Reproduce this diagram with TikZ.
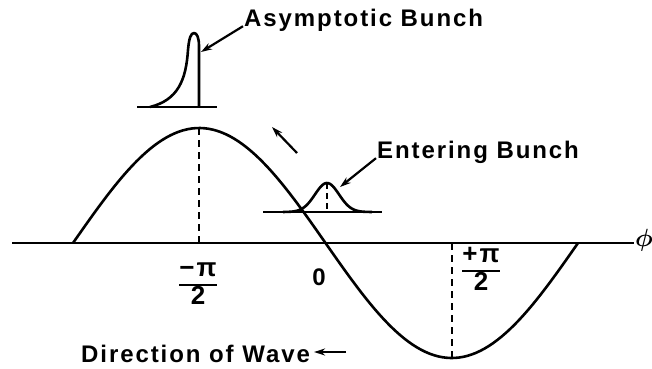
\documentclass[tikz,border=0pt]{standalone}
\usepackage{amsmath}
\usepackage{fontspec}
\setmainfont{Liberation Sans}[LetterSpace=8]
\usepackage{tikz}
\usetikzlibrary{arrows.meta}
\newcommand{\phasefrac}[2]{{\setlength{\arrayrulewidth}{2pt}\renewcommand{\arraystretch}{0.95}%
  \begin{tabular}{@{}c@{}}#1\\\hline#2\end{tabular}}}

\begin{document}
\begin{tikzpicture}[x=1pt, y=-1pt,
    curve/.style={line width=2.6pt, line join=round},
    guide/.style={line width=2pt, dash pattern=on 7pt off 5pt},
    pointer/.style={-{Stealth[length=11pt,width=7pt]}, line width=2.2pt},
    lab/.style={font=\fontsize{24}{27}\selectfont\bfseries, inner sep=1pt},
    flab/.style={font=\fontsize{26}{27}\selectfont\bfseries, inner sep=0pt}]

  \useasboundingbox (0,0) rectangle (652,368);

  % ---- phase axis ----
  \node[lab, font=\fontsize{28}{30}\selectfont] (phi) at (644,240) {$\boldsymbol{\phi}$};
  \coordinate (axl) at (12,243);
  \draw[curve] (axl) -- (phi.west |- axl);

  % ---- wave (one period, 73 to 578) ----
  \draw[curve] plot[domain=73:578, samples=120] (\x, {243 - 115*sin((\x-73)/505*360)});
  \coordinate (crest) at (199.25,128);
  \coordinate (trough) at (451.75,358);
  \draw[guide] (crest) -- (crest |- axl);
  \draw[guide] (trough |- axl) -- (trough);

  % axis labels
  \node[flab] (mhalf) at (198,285) {\phasefrac{−π}{2}};
  \node[lab] (zero) at (319,277) {0};
  \node[flab] (phalf) at (481,271) {\phasefrac{+π}{2}};

  % motion along the wave
  \coordinate (flowA) at (297,153);
  \coordinate (flowB) at (272,127);
  \draw[pointer] (flowA) -- (flowB);

  % ---- asymptotic bunch ----
  \draw[curve] (137,107) -- (217,107);
  \draw[curve] (150,107) .. controls (178,100) and (186,80) .. (188,50)
    .. controls (189,38) and (191,33) .. (194,33)
    .. controls (197,33) and (199,38) .. (199,46) -- (199,107);
  \node[lab, anchor=west] (asym) at (243,20) {Asymptotic Bunch};
  \coordinate (asymtip) at (201,52);
  \draw[pointer] (asym.base west) -- (asymtip);

  % ---- entering bunch ----
  \draw[curve] (263,212) -- (382,212);
  \draw[curve] plot[domain=283:372, samples=60] (\x, {212 - 29*exp(-((\x-327)/17)^2)});
  \coordinate (entop) at (327,183);
  \draw[guide, line width=1.8pt, dash pattern=on 6pt off 4pt] (entop) -- (327,212);
  \node[lab, anchor=west] (enter) at (376,152) {Entering Bunch};
  \coordinate (entip) at (340,187);
  \draw[pointer] (enter.base west) -- (entip);

  % ---- direction of wave ----
  \node[lab, anchor=west] (dir) at (80,354) {Direction of Wave};
  \coordinate (dirtail) at (346,352);
  \draw[pointer] (dirtail) -- ([xshift=3pt]dir.east |- dirtail);

\end{tikzpicture}
\end{document}
